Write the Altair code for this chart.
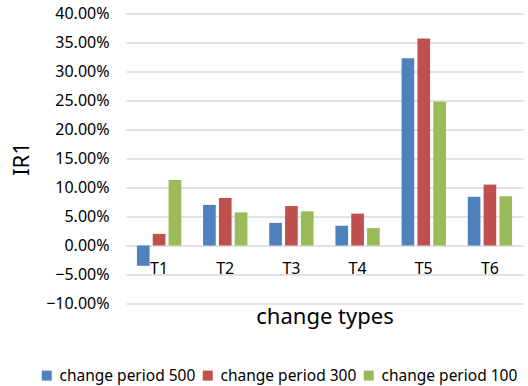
import altair as alt
import pandas as pd

# Category labels, series names and IR1 values (fractions)
types = ["T1", "T2", "T3", "T4", "T5", "T6"]
series = ["change period 500", "change period 300", "change period 100"]
period_500 = [-0.035, 0.070, 0.039, 0.034, 0.323, 0.084]
period_300 = [0.020, 0.082, 0.068, 0.055, 0.357, 0.105]
period_100 = [0.113, 0.057, 0.059, 0.030, 0.248, 0.085]
colors = ["#4F81BD", "#C0504D", "#9BBB59"]

rows = []
for name, vals in zip(series, [period_500, period_300, period_100]):
    for t, v in zip(types, vals):
        rows.append({"type": t, "series": name, "value": v})
df = pd.DataFrame(rows)

FONT = "Noto Sans"

chart = (
    alt.Chart(df)
    .mark_bar()
    .encode(
        x=alt.X(
            "type:N",
            sort=types,
            title="change types",
            scale=alt.Scale(paddingInner=0.33, paddingOuter=0.165),
            axis=alt.Axis(
                offset=-58,
                grid=False,
                labelAngle=0,
                labelFontSize=16,
                labelPadding=15,
                labelColor="#000000",
                ticks=False,
                domain=False,
                titleFontSize=22,
                titleFontWeight="normal",
                titleColor="#000000",
                titlePadding=30,
            ),
        ),
        xOffset=alt.XOffset(
            "series:N", sort=series, scale=alt.Scale(paddingInner=0.2, paddingOuter=0)
        ),
        y=alt.Y(
            "value:Q",
            title="IR1",
            scale=alt.Scale(domain=[-0.10, 0.40], nice=False),
            axis=alt.Axis(
                values=[-0.10, -0.05, 0, 0.05, 0.10, 0.15, 0.20, 0.25, 0.30, 0.35, 0.40],
                format=".2%",
                labelFontSize=16,
                labelPadding=17,
                labelColor="#000000",
                ticks=False,
                domain=False,
                gridColor="#D9D9D9",
                gridWidth=1.3,
                titleFontSize=22,
                titleFontWeight="normal",
                titleColor="#000000",
                titlePadding=12,
            ),
        ),
        color=alt.Color(
            "series:N",
            sort=series,
            scale=alt.Scale(domain=series, range=colors),
            legend=alt.Legend(
                title=None,
                orient="none",
                direction="horizontal",
                legendX=-87,
                legendY=354,
                symbolType="square",
                symbolSize=100,
                symbolStrokeWidth=0,
                labelFontSize=15.5,
                labelColor="#000000",
                labelOffset=5,
                columnPadding=4,
            ),
        ),
    )
    .properties(
        width=397,
        height=290,
        autosize=alt.AutoSizeParams(type="none"),
        padding={"left": 126, "top": 13.5, "right": 5, "bottom": 82},
        background="#FFFFFF",
    )
    .configure(font=FONT)
    .configure_view(stroke="transparent", strokeOpacity=0, strokeWidth=0)
)

chart.save("out.html", embed_options={"renderer": "svg", "actions": False})
